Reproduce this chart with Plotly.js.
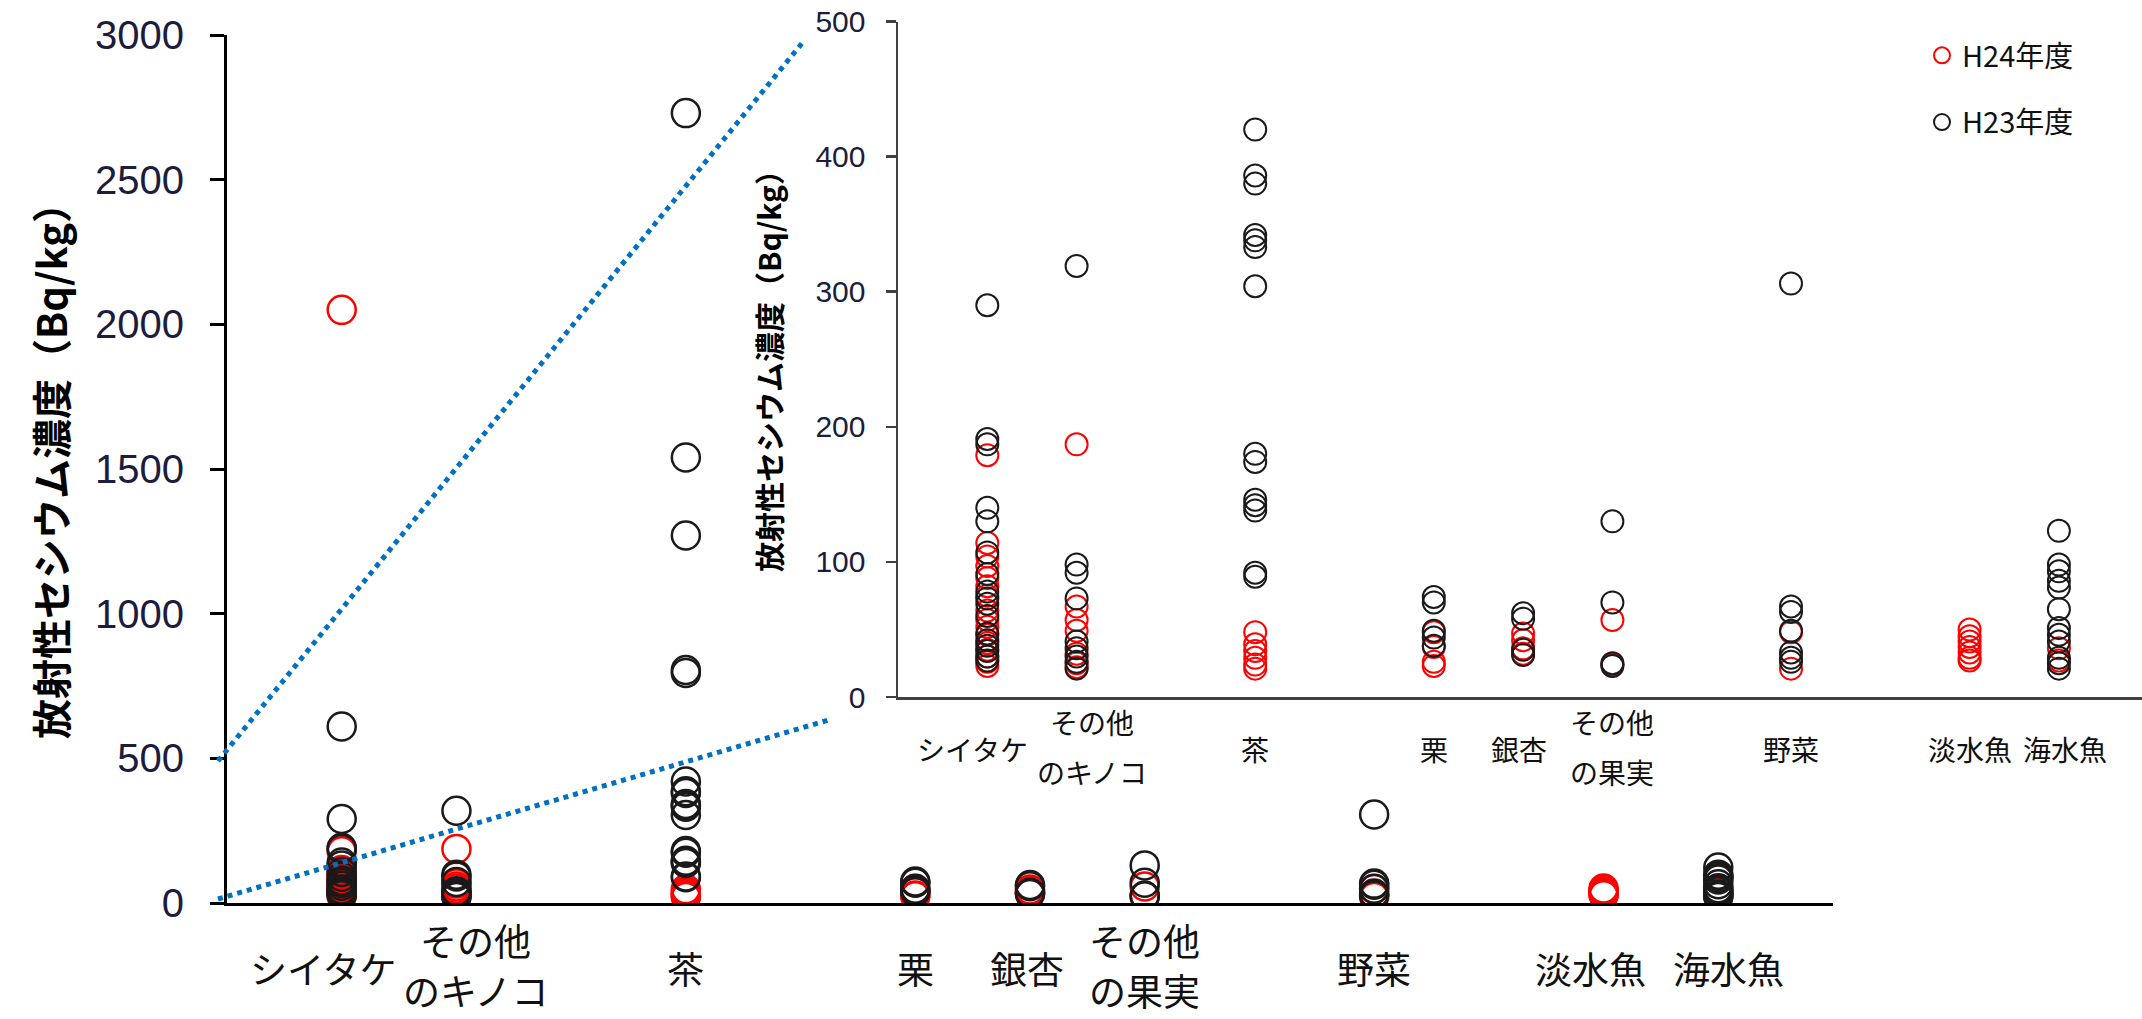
<!DOCTYPE html>
<html>
<head>
<meta charset="utf-8">
<script src="https://cdn.plot.ly/plotly-3.0.1.min.js"></script>
<style>html,body{margin:0;padding:0;background:#fff;}#chart{width:2142px;height:1019px;}</style>
</head>
<body>
<div id="chart"></div>
<script>
// ---- categories ----
const categories = ['シイタケ', 'その他\nのキノコ', '茶', '栗', '銀杏', 'その他\nの果実', '野菜', '淡水魚', '海水魚'];
const catPos = [1, 2, 4, 6, 7, 8, 10, 12, 13];

// ---- H24年度 (red) values, Bq/kg ----
const h24_shiitake = [2050, 179, 114, 104, 97, 88, 82, 75, 64, 57, 52, 46, 40, 35, 30, 26, 23];
const h24_kinoko   = [187, 67, 57, 49, 32, 25, 22];
const h24_cha      = [48, 39, 34, 29, 24, 21];
const h24_kuri     = [48, 37, 26, 23];
const h24_ginnan   = [47, 42, 36, 32];
const h24_kajitsu  = [57, 24];
const h24_yasai    = [48, 21];
const h24_tansui   = [50, 45, 41, 37, 33, 29, 27];
const h24_kaisui   = [36, 27];

// ---- H23年度 (black) values, Bq/kg ----
const h23_shiitake = [610, 290, 191, 187, 140, 130, 107, 91, 78, 73, 69, 60, 47, 42, 38, 34, 30, 27];
const h23_kinoko   = [319, 98, 92, 73, 41, 36, 30, 26, 21];
const h23_cha      = [2730, 1540, 1270, 805, 795, 420, 386, 380, 342, 338, 333, 304, 180, 174, 146, 142, 138, 92, 89];
const h23_kuri     = [74, 70, 49, 44, 38];
const h23_ginnan   = [62, 58, 35, 31];
const h23_kajitsu  = [130, 70, 25, 23];
const h23_yasai    = [306, 67, 63, 49, 33, 29, 26];
const h23_tansui   = [];
const h23_kaisui   = [123, 98, 93, 86, 81, 65, 51, 46, 41, 29, 25, 21];

// ---- axis ticks ----
const mainTicks = [0, 500, 1000, 1500, 2000, 2500, 3000];
const insetTicks = [0, 100, 200, 300, 400, 500];

const seriesNames = ['H24年度', 'H23年度'];
const yTitle = '放射性セシウム濃度（Bq/kg）';

// label placement nudges (layout only, in axis units)
const mainLabelShift  = [-0.16, 0.17, 0, 0, -0.03, 0, 0, -0.11, 0.09];
const insetLabelShift = [-0.17, 0.17, 0, 0, -0.05, 0, 0, 0, 0.07];

const h24All = [h24_shiitake, h24_kinoko, h24_cha, h24_kuri, h24_ginnan, h24_kajitsu, h24_yasai, h24_tansui, h24_kaisui];
const h23All = [h23_shiitake, h23_kinoko, h23_cha, h23_kuri, h23_ginnan, h23_kajitsu, h23_yasai, h23_tansui, h23_kaisui];

function flatten(all) {
  const xs = [], ys = [];
  all.forEach((vals, i) => vals.forEach(v => { xs.push(catPos[i]); ys.push(v); }));
  return {xs, ys};
}
const s24 = flatten(h24All), s23 = flatten(h23All);

const RED = '#ff0000', BLACK = '#1a1a1a';
function trace(s, color, name, xa, ya, size, lw, show, group) {
  return {
    type: 'scatter', mode: 'markers', x: s.xs, y: s.ys, name: name,
    xaxis: xa, yaxis: ya, showlegend: show, legendgroup: group, cliponaxis: true,
    marker: {symbol: 'circle', size: size, color: 'rgba(0,0,0,0)', line: {color: color, width: lw}},
    hoverinfo: 'x+y'
  };
}

const data = [
  trace(s24, RED, seriesNames[0], 'x', 'y', 28, 2.5, false, 'a'),
  trace(s23, BLACK, seriesNames[1], 'x', 'y', 28, 2.5, false, 'b'),
  trace(s24, RED, seriesNames[0], 'x2', 'y2', 22, 2, true, 'a'),
  trace(s23, BLACK, seriesNames[1], 'x2', 'y2', 22, 2, true, 'b')
];

const W = 2142, H = 1019;
const px = v => v / W, py = v => 1 - v / H;

const FONT = 'Liberation Sans, Arial, Noto Sans CJK JP, sans-serif';
const JFONT = 'Noto Sans CJK JP, sans-serif';
const TICKCOL = '#1c1c3c';

const annotations = [];
// category labels (main and inset)
function addCatLabels(xref, shift, size, ySingle, yTop, yBot) {
  categories.forEach((c, i) => {
    const lines = c.split('\n');
    const ys = lines.length === 1 ? [ySingle] : [yTop, yBot];
    lines.forEach((ln, k) => annotations.push({
      xref: xref, yref: 'paper', x: catPos[i] + shift[i], y: py(ys[k]), text: ln, showarrow: false,
      xanchor: 'center', yanchor: 'middle', font: {family: JFONT, size: size, color: '#111'}
    }));
  });
}
addCatLabels('x', mainLabelShift, 37, 968, 940, 990);
addCatLabels('x2', insetLabelShift, 28, 749, 722, 772);
// y titles
annotations.push({xref: 'paper', yref: 'paper', x: px(50), y: py(461), text: '<b>' + yTitle + '</b>', textangle: -90,
  showarrow: false, xanchor: 'center', yanchor: 'middle', font: {family: JFONT, size: 40, color: '#000'}});
annotations.push({xref: 'paper', yref: 'paper', x: px(768), y: py(364), text: '<b>' + yTitle + '</b>', textangle: -90,
  showarrow: false, xanchor: 'center', yanchor: 'middle', font: {family: JFONT, size: 30, color: '#000'}});

const dotted = {color: '#0070c0', width: 5, dash: 'dot'};
const shapes = [
  {type: 'line', xref: 'paper', yref: 'paper', x0: px(218), y0: py(761), x1: px(803), y1: py(42), line: dotted},
  {type: 'line', xref: 'paper', yref: 'paper', x0: px(218), y0: py(899), x1: px(832), y1: py(719), line: dotted}
];

const layout = {
  width: W, height: H,
  margin: {l: 0, r: 0, t: 0, b: 0, pad: 0},
  paper_bgcolor: '#fff', plot_bgcolor: 'rgba(0,0,0,0)',
  font: {family: FONT},
  showlegend: true,
  legend: {x: px(1922), y: py(30), xanchor: 'left', yanchor: 'top', bgcolor: 'rgba(0,0,0,0)',
    font: {family: JFONT, size: 29, color: '#111'}, tracegroupgap: 26, traceorder: 'grouped'},
  xaxis: {domain: [px(227), px(1833)], range: [0, 14], anchor: 'y', showgrid: false, zeroline: false,
    showline: true, linecolor: '#000', linewidth: 3, ticks: '', showticklabels: false, fixedrange: true},
  yaxis: {domain: [py(903), py(35)], range: [0, 3000], anchor: 'x', showgrid: false, zeroline: false,
    showline: true, linecolor: '#000', linewidth: 3, tickmode: 'array', tickvals: mainTicks,
    ticktext: mainTicks.map(String), ticks: 'outside', ticklen: 14, tickwidth: 3, tickcolor: '#000',
    ticklabelstandoff: 18, tickfont: {family: FONT, size: 40, color: TICKCOL}},
  xaxis2: {domain: [px(898), 1], range: [0, (W - 898) / 89.3], anchor: 'y2', showgrid: false, zeroline: false,
    showline: true, linecolor: '#404040', linewidth: 2.5, ticks: '', showticklabels: false},
  yaxis2: {domain: [py(697), py(21.5)], range: [0, 500], anchor: 'x2', showgrid: false, zeroline: false,
    showline: true, linecolor: '#404040', linewidth: 2.5, tickmode: 'array', tickvals: insetTicks,
    ticktext: insetTicks.map(String), ticks: 'outside', ticklen: 10, tickwidth: 2.5, tickcolor: '#404040',
    ticklabelstandoff: 14, tickfont: {family: FONT, size: 30, color: TICKCOL}},
  annotations: annotations,
  shapes: shapes
};

Plotly.newPlot('chart', data, layout, {displayModeBar: false, staticPlot: true});
</script>
</body>
</html>
